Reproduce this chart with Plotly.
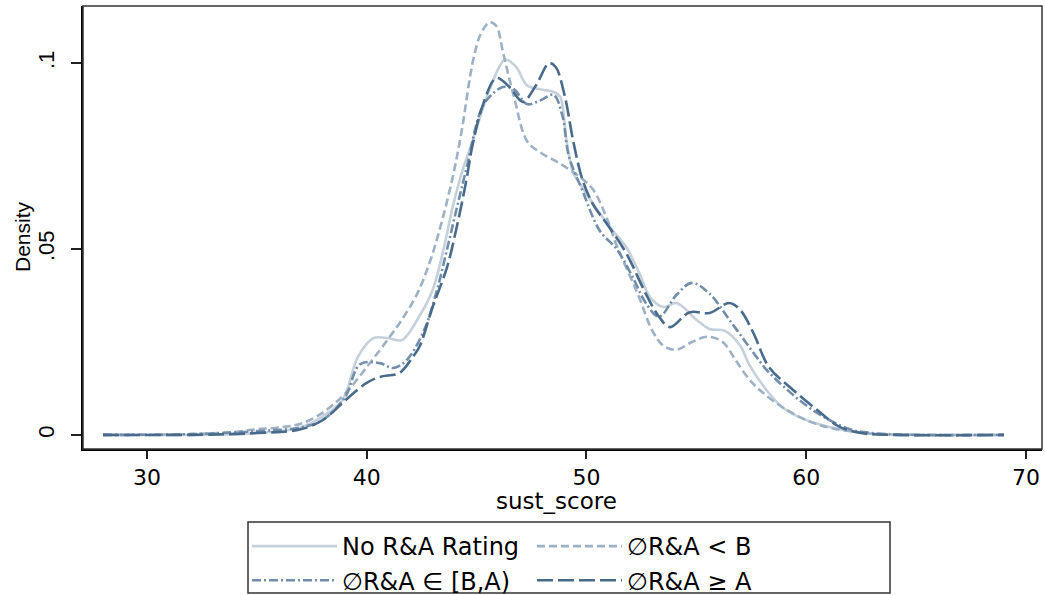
import plotly.graph_objects as go

# ---- data ----
NO_X = [28, 32, 35, 37, 38, 38.9, 39.6, 40.3, 41.0, 41.6, 42.4, 43.0, 43.5, 43.9, 44.4,
        44.7, 45.3, 45.8, 46.3, 46.8, 47.3, 47.9, 48.5, 48.8, 49.1, 49.4, 49.8, 50.5, 51.2,
        51.8, 52.4, 52.9, 53.5, 54.1, 55.0, 55.6, 56.3, 57.0, 57.4, 58.2, 58.9, 59.6, 60.5,
        61.7, 63, 65, 69]
NO_Y = [0, 0, 0.0005, 0.002, 0.005, 0.0094, 0.021, 0.026, 0.026, 0.0255, 0.032, 0.039, 0.050,
        0.061, 0.072, 0.077, 0.088, 0.096, 0.101, 0.099, 0.094, 0.093, 0.0923, 0.091, 0.079,
        0.0705, 0.0667, 0.0605, 0.055, 0.0506, 0.0436, 0.037, 0.0344, 0.0355, 0.031, 0.0285,
        0.028, 0.024, 0.019, 0.012, 0.0075, 0.005, 0.003, 0.0013, 0.0003, 0, 0]

LB_X = [28, 32, 34, 35, 36, 37, 38, 39, 40.1, 41.0, 41.6, 42.3, 42.9, 43.4, 43.9, 44.3, 44.85,
        45.2, 45.6, 45.9, 46.2, 46.7, 47.3, 47.9, 48.8, 49.7, 50.3, 50.9, 51.4, 52.0, 52.4,
        53.0, 53.5, 54.1, 54.8, 55.5, 56.2, 56.8, 57.4, 57.9, 58.9, 60, 61, 62, 63, 65, 69]
LB_Y = [0, 0.0002, 0.0008, 0.0015, 0.002, 0.003, 0.006, 0.011, 0.019, 0.026, 0.031, 0.038,
        0.047, 0.057, 0.069, 0.081, 0.101, 0.108, 0.111, 0.110, 0.103, 0.091, 0.079, 0.076,
        0.073, 0.0694, 0.066, 0.0587, 0.0506, 0.0425, 0.037, 0.028, 0.024, 0.0229, 0.025,
        0.0264, 0.025, 0.020, 0.015, 0.012, 0.0075, 0.004, 0.002, 0.001, 0.0003, 0, 0]

BA_X = [28, 32, 35, 37, 38, 39, 39.7, 40.6, 41.2, 41.8, 42.6, 43.2, 43.65, 44.1, 44.55, 45.2,
        45.6, 46.2, 46.7, 47.3, 47.9, 48.5, 48.9, 49.2, 49.8, 50.6, 51.4, 52.1, 52.7, 53.3,
        54.1, 54.8, 55.6, 56.5, 57.4, 58.2, 59.3, 60.5, 62, 63, 65, 69]
BA_Y = [0, 0.0002, 0.001, 0.002, 0.004, 0.010, 0.019, 0.0193, 0.018, 0.020, 0.028, 0.039,
        0.0498, 0.061, 0.072, 0.0874, 0.091, 0.0936, 0.093, 0.089, 0.090, 0.0915, 0.086,
        0.075, 0.066, 0.055, 0.0498, 0.0425, 0.0355, 0.0318, 0.0377, 0.0409, 0.038, 0.031,
        0.0237, 0.0175, 0.0113, 0.0059, 0.0015, 0.0005, 0, 0]

GA_X = [28, 32, 35, 37, 38, 39.2, 40.0, 40.6, 41.5, 42.1, 42.4, 43.0, 43.65, 44.1, 44.55,
        44.8, 45.3, 45.9, 46.5, 47.1, 47.7, 48.3, 48.6, 49.0, 49.4, 49.8, 50.3, 50.9, 51.8,
        52.7, 53.3, 53.8, 54.7, 55.6, 56.5, 57.0, 57.6, 58.3, 59.4, 60.5, 61.5, 62.5, 64, 69]
GA_Y = [0, 0, 0.0005, 0.0015, 0.004, 0.0102, 0.014, 0.0156, 0.0167, 0.021, 0.0237, 0.0344,
        0.045, 0.056, 0.069, 0.0775, 0.089, 0.096, 0.0936, 0.0896, 0.094, 0.100, 0.099,
        0.0915, 0.079, 0.069, 0.062, 0.057, 0.049, 0.038, 0.0318, 0.029, 0.033, 0.0328,
        0.0355, 0.0336, 0.0274, 0.0183, 0.0121, 0.0067, 0.0022, 0.0005, 0, 0]

SERIES_NAMES = ["No R&A Rating", "\u2205R&A < B", "\u2205R&A \u2208 [B,A)", "\u2205R&A \u2265 A"]
X_TICKS = [30, 40, 50, 60, 70]
Y_TICKS = [0, 0.05, 0.1]
Y_TICK_LABELS = ["0", ".05", ".1"]
X_TITLE = "sust_score"
Y_TITLE = "Density"

styles = [
    dict(color="#c6d0da", dash="solid", width=2.6),
    dict(color="#9cb1c5", dash="8px,4px", width=2.6),
    dict(color="#728daa", dash="9px,3px,2px,3px", width=2.6),
    dict(color="#486a8b", dash="16px,5px", width=2.6),
]
legend_of = ["legend", "legend2", "legend", "legend2"]

WIDE = "DejaVu Sans, Liberation Sans, Arial, sans-serif"
NARROW = "Liberation Sans, Arial, sans-serif"

# layout helpers (pixel -> paper / container coordinates)
L, R, T, B, W, H = 83, 3, 6, 146, 1045, 595
PW, PH = W - L - R, H - T - B
def px(xp):
    return (xp - L) / PW
def py(yp):
    return (H - B - yp) / PH
def cx(xp):
    return xp / W
def cy(yp):
    return 1 - yp / H

fig = go.Figure()
for (xs, ys), name, st, lg in zip([(NO_X, NO_Y), (LB_X, LB_Y), (BA_X, BA_Y), (GA_X, GA_Y)],
                                  SERIES_NAMES, styles, legend_of):
    fig.add_trace(go.Scatter(x=xs, y=ys, mode="lines", name=name, legend=lg,
                             line=dict(shape="spline", smoothing=1.0, **st)))

leg_common = dict(orientation="v", yanchor="top", xanchor="left", borderwidth=0,
                  xref="container", yref="container",
                  bgcolor="rgba(0,0,0,0)", font=dict(family=WIDE, size=24, color="black"),
                  itemwidth=85, tracegroupgap=0)

fig.update_layout(
    width=W, height=H,
    margin=dict(l=L, r=R, t=T, b=B, autoexpand=False),
    paper_bgcolor="white", plot_bgcolor="white",
    font=dict(family=WIDE, size=23, color="black"),
    showlegend=True,
    legend=dict(x=cx(247), y=cy(524), **leg_common),
    legend2=dict(x=cx(532), y=cy(524), **leg_common),
    xaxis=dict(
        range=[27.09, 70.73], tickvals=X_TICKS, ticks="outside", ticklen=8,
        tickwidth=1.5, tickcolor="#222", showgrid=False, zeroline=False,
        showline=True, linecolor="black", linewidth=2, automargin=False,
        tickfont=dict(family=WIDE, size=22),
    ),
    yaxis=dict(
        range=[-0.0038, 0.1154], tickvals=Y_TICKS, ticktext=Y_TICK_LABELS,
        tickangle=-90, ticks="outside", ticklen=10, tickwidth=1.5, tickcolor="#222",
        ticklabelstandoff=8,
        showgrid=False, zeroline=False, showline=True, linecolor="black", linewidth=2,
        automargin=False,
        tickfont=dict(family=NARROW, size=22),
    ),
    shapes=[
        dict(type="rect", xref="paper", yref="paper", x0=0, x1=1, y0=0, y1=1,
             line=dict(color="#333333", width=1.5)),
        dict(type="rect", xref="paper", yref="paper", x0=px(248), x1=px(890),
             y0=py(593), y1=py(522), line=dict(color="#333333", width=1.5)),
    ],
    annotations=[
        dict(text=X_TITLE, xref="paper", yref="paper", x=px(556), y=py(501),
             xanchor="center", yanchor="middle", showarrow=False,
             font=dict(family=WIDE, size=23, color="black")),
        dict(text=Y_TITLE, xref="paper", yref="paper", x=px(22), y=py(236),
             xanchor="center", yanchor="middle", showarrow=False, textangle=-90,
             font=dict(family=NARROW, size=21, color="black")),
    ],
)

fig.write_html("out.html", config={"displayModeBar": False},
               post_script="document.body.style.margin='0';")
